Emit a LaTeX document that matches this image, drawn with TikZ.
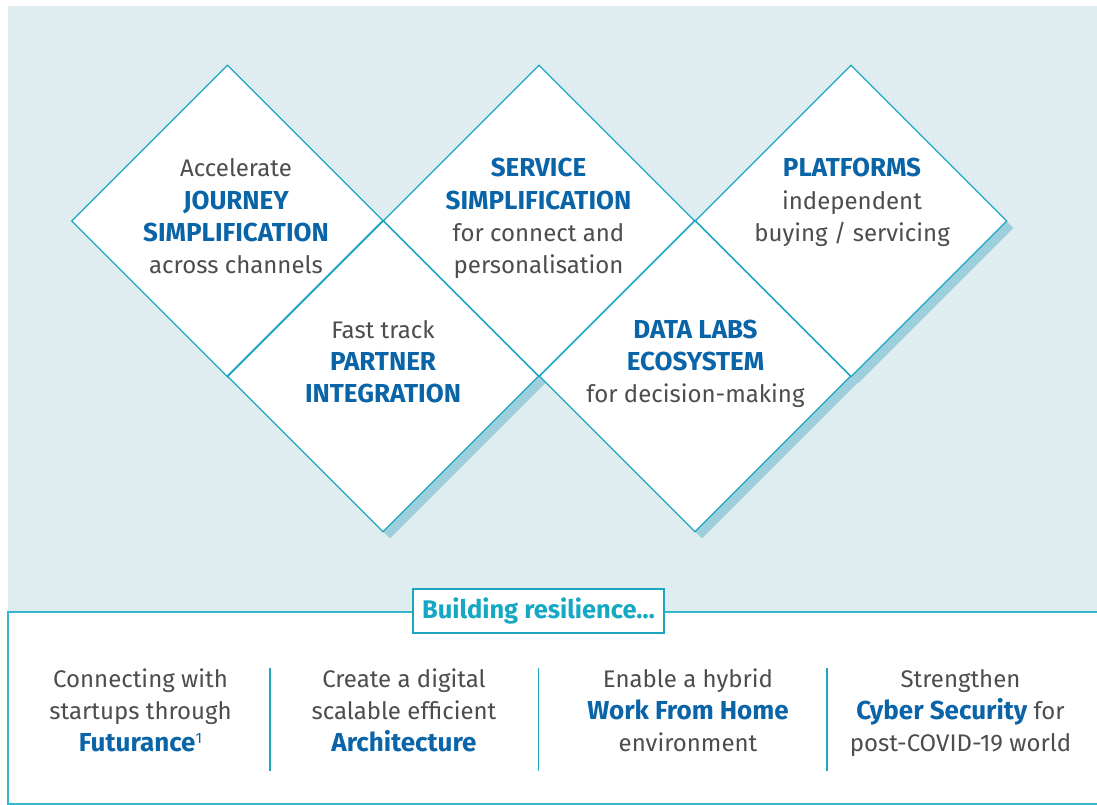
\documentclass[tikz,border=0pt]{standalone}
\usepackage{fontspec}
\setmainfont{Fira Sans}
\usetikzlibrary{shapes.geometric}
\definecolor{bgc}{RGB}{223,236,240}
\definecolor{linec}{RGB}{28,166,194}
\definecolor{boxc}{RGB}{52,182,206}
\definecolor{shadc}{RGB}{157,207,220}
\definecolor{bluec}{RGB}{10,100,168}
\definecolor{grayc}{RGB}{77,77,77}
\definecolor{tealtxt}{RGB}{20,168,196}
\begin{document}
\begin{tikzpicture}[x=1pt,y=-1pt,
  dia/.style={shape=diamond, minimum width=311pt, minimum height=311pt, inner sep=0pt, aspect=1},
  shad/.style={dia, fill=shadc},
  wfill/.style={dia, fill=white},
  outl/.style={draw=linec, line width=1.2pt, line join=miter},
  txt/.style={anchor=base, inner sep=0pt, text=grayc, font=\fontsize{24}{32}\selectfont},
  hl/.style={anchor=base, inner sep=0pt, text=bluec, font=\fontsize{26}{32}\selectfont\bfseries},
  btxt/.style={txt},
  sepl/.style={draw=linec, line width=1.3pt},
]
\useasboundingbox (0,0) rectangle (1097,805);
\fill[bgc] (8,6) rectangle (1097,612);

% shadows
\node[shad] (s1) at (234.5,228) {};
\node[shad] (s2) at (546,228) {};
\node[shad] (s3) at (858,228) {};
\node[shad] (s4) at (390,383) {};
\node[shad] (s5) at (702,383) {};
% white fills
\node[wfill] (d1) at (227.5,221) {};
\node[wfill] (d2) at (539,221) {};
\node[wfill] (d3) at (851,221) {};
\node[wfill] (d4) at (383,376) {};
\node[wfill] (d5) at (695,376) {};
% outlines
\foreach \d in {d1,d2,d3,d4,d5}{
  \draw[outl] (\d.north) -- (\d.east) -- (\d.south) -- (\d.west) -- cycle;
}

% diamond texts
\node[txt] (t1a) at (236,177) {Accelerate};
\node[hl]  (t1b) at (236,209) {JOURNEY};
\node[hl]  (t1c) at (236,241) {SIMPLIFICATION};
\node[txt] (t1d) at (236,273) {across channels};

\node[hl]  (t2a) at (538.5,177) {SERVICE};
\node[hl]  (t2b) at (538.5,209) {SIMPLIFICATION};
\node[txt] (t2c) at (538.5,241) {for connect and};
\node[txt] (t2d) at (538.5,273) {personalisation};

\node[hl]  (t3a) at (852,177) {PLATFORMS};
\node[txt] (t3b) at (852,209) {independent};
\node[txt] (t3c) at (852,241) {buying / servicing};

\node[txt] (t4a) at (383,338) {Fast track};
\node[hl]  (t4b) at (383,370) {PARTNER};
\node[hl]  (t4c) at (383,402) {INTEGRATION};

\node[hl]  (t5a) at (695.5,338) {DATA LABS};
\node[hl]  (t5b) at (695.5,370) {ECOSYSTEM};
\node[txt] (t5c) at (695.5,402) {for decision-making};

% bottom box
\fill[white] (8,612) rectangle (1097,804);
\draw[draw=boxc, line width=1.5pt] (1097,612) -- (8,612) -- (8,804) -- (1097,804);
\node[draw=linec, fill=white, line width=1.3pt, minimum width=251pt, minimum height=44pt, inner sep=0pt,
      text=tealtxt, font=\fontsize{25.5}{30}\selectfont\bfseries] (br) at (538.5,611) {Building resilience…};

\draw[sepl] (270,668) -- (270,771);
\draw[sepl] (538.5,668) -- (538.5,771);
\draw[sepl] (827,668) -- (827,771);

\node[btxt] (b1a) at (140.5,687) {Connecting with};
\node[btxt] (b1b) at (140.5,719) {startups through};
\node[hl]   (b1c) at (140.5,751) {Futurance{\fontsize{15}{15}\selectfont\mdseries\raisebox{8pt}{1}}};

\node[btxt] (b2a) at (404,687) {Create a digital};
\node[btxt] (b2b) at (404,719) {scalable efficient};
\node[hl]   (b2c) at (404,751) {Architecture};

\node[btxt] (b3a) at (688,687) {Enable a hybrid};
\node[hl]   (b3b) at (688,719) {Work From Home};
\node[btxt] (b3c) at (688,751) {environment};

\node[btxt] (b4a) at (960.5,687) {Strengthen};
\node[btxt] (b4b) at (960.5,719) {{\fontsize{26}{32}\selectfont\color{bluec}\bfseries Cyber Security} for};
\node[btxt] (b4c) at (960.5,751) {post-COVID-19 world};
\end{tikzpicture}
\end{document}
